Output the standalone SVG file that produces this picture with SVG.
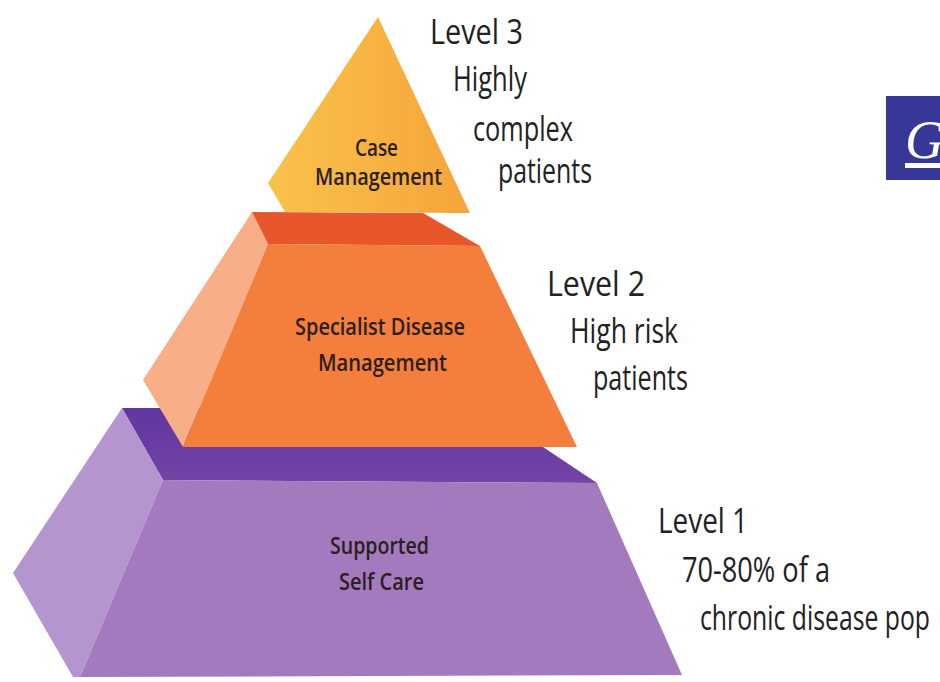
<svg xmlns="http://www.w3.org/2000/svg" width="940" height="682" viewBox="0 0 940 682">
  <defs>
    <linearGradient id="gTri" x1="0" y1="0" x2="1" y2="0">
      <stop offset="0" stop-color="#FAC24A"/>
      <stop offset="1" stop-color="#F5A43A"/>
    </linearGradient>
    <linearGradient id="gPurpTop" x1="0" y1="0" x2="0" y2="1">
      <stop offset="0" stop-color="#5F36A0"/>
      <stop offset="1" stop-color="#7444A6"/>
    </linearGradient>
    <style>
      .lbl { font-family: "Open Sans", "Liberation Sans", sans-serif; font-size: 35px; fill: #222222; }
      .in { font-family: "Open Sans", "Liberation Sans", sans-serif; font-size: 24px; font-weight: 600; fill: #2a2020; }
    </style>
  </defs>
  <rect x="0" y="0" width="940" height="682" fill="#ffffff"/>

  <g id="level1">
    <polygon points="122,408 520,408 543,447 597,483 163,480" fill="url(#gPurpTop)"/>
    <polygon points="122,408 163,480 80,677 73,677 13,573" fill="#B495D0"/>
    <polygon points="163,480 597,483 682,675 80,677" fill="#A47ABF"/>
    <text class="in" x="330" y="554" textLength="99" lengthAdjust="spacingAndGlyphs">Supported</text>
    <text class="in" x="339" y="590" textLength="85" lengthAdjust="spacingAndGlyphs">Self Care</text>
  </g>

  <g id="level2">
    <polygon points="252,212 268,244 183,447 143,380" fill="#F8AE86"/>
    <polygon points="252,212 423,213 480,246 268,244" fill="#E8562B"/>
    <polygon points="268,244 480,246 577,447 183,447" fill="#F47E3B"/>
    <text class="in" x="295" y="335" textLength="170" lengthAdjust="spacingAndGlyphs">Specialist Disease</text>
    <text class="in" x="318" y="371" textLength="129" lengthAdjust="spacingAndGlyphs">Management</text>
  </g>

  <g id="level3">
    <polygon points="378,17 268,183 285,212 470,213" fill="url(#gTri)"/>
    <text class="in" x="355" y="156" textLength="43" lengthAdjust="spacingAndGlyphs">Case</text>
    <text class="in" x="315" y="185" textLength="127" lengthAdjust="spacingAndGlyphs">Management</text>
  </g>

  <g id="labels">
    <text class="lbl" x="430" y="44" textLength="93" lengthAdjust="spacingAndGlyphs">Level 3</text>
    <text class="lbl" x="453" y="91" textLength="74" lengthAdjust="spacingAndGlyphs">Highly</text>
    <text class="lbl" x="473" y="141" textLength="100" lengthAdjust="spacingAndGlyphs">complex</text>
    <text class="lbl" x="498" y="183" textLength="94" lengthAdjust="spacingAndGlyphs">patients</text>
    <text class="lbl" x="547" y="296" textLength="98" lengthAdjust="spacingAndGlyphs">Level  2</text>
    <text class="lbl" x="570" y="343" textLength="108" lengthAdjust="spacingAndGlyphs">High risk</text>
    <text class="lbl" x="593" y="390" textLength="95" lengthAdjust="spacingAndGlyphs">patients</text>
    <text class="lbl" x="658" y="533" textLength="90" lengthAdjust="spacingAndGlyphs">Level 1</text>
    <text class="lbl" x="682" y="582" textLength="148" lengthAdjust="spacingAndGlyphs">70-80% of a</text>
    <text class="lbl" x="700" y="630" textLength="230" lengthAdjust="spacingAndGlyphs">chronic disease pop</text>
  </g>

  <g id="logo">
    <rect x="886" y="96" width="60" height="84" fill="#373797"/>
    <text x="905" y="158" font-family="Liberation Serif, serif" font-style="italic" font-size="54" fill="#ffffff">G</text>
    <rect x="905" y="163" width="40" height="5" fill="#ffffff"/>
  </g>

  <g id="connectors"/>
</svg>
